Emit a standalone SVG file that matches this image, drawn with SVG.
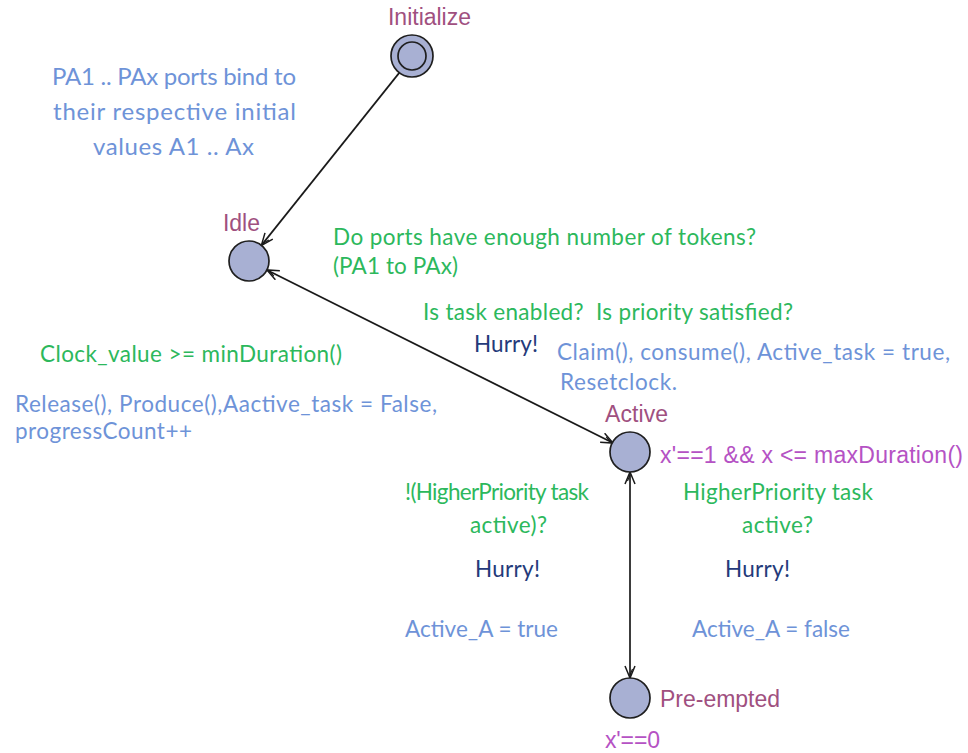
<svg xmlns="http://www.w3.org/2000/svg" width="968" height="753" viewBox="0 0 968 753">
  <defs>
    <marker id="arrow" viewBox="0 0 14 12" refX="13" refY="6" markerWidth="14" markerHeight="12" markerUnits="userSpaceOnUse" orient="auto-start-reverse">
      <path d="M1,1 L13,6 L1,11" fill="none" stroke="#1a1a1a" stroke-width="1.5"/>
      <path d="M4,3.5 L10,6" fill="none" stroke="#1a1a1a" stroke-width="1.2"/>
    </marker>
    <style>
      .loc { fill: #a8b0d3; stroke: #1f1f1f; stroke-width: 1.7; }
      .edge { fill: none; stroke: #1a1a1a; stroke-width: 1.7; }
      .name { font-family: "Liberation Sans", Arial, sans-serif; font-size: 23px; fill: #a0507f; }
      .inv { font-family: "Liberation Sans", Arial, sans-serif; font-size: 23px; fill: #b552c4; }
      .guard { font-family: Lato, "Open Sans", sans-serif; font-size: 22.5px; fill: #2cb85c; }
      .upd { font-family: Lato, "Open Sans", sans-serif; font-size: 22.5px; fill: #6e93d8; }
      .sync { font-family: Lato, "Open Sans", sans-serif; font-size: 22.5px; fill: #243a7a; }
      .note { font-size: 24px; }
    </style>
  </defs>

  <!-- transitions -->
  <g id="connectors">
    <line class="edge" x1="399.6" y1="72.4" x2="261.4" y2="245.4" marker-end="url(#arrow)"/>
    <line class="edge" x1="266.9" y1="269.9" x2="613.1" y2="443.1" marker-start="url(#arrow)" marker-end="url(#arrow)"/>
    <line class="edge" x1="630" y1="472" x2="630" y2="678" marker-start="url(#arrow)" marker-end="url(#arrow)"/>
  </g>

  <!-- locations -->
  <g id="initialize">
    <circle class="loc" cx="412" cy="56" r="21"/>
    <circle class="loc" cx="412" cy="56" r="14"/>
    <text class="name" x="388" y="25" textLength="83">Initialize</text>
  </g>
  <g id="idle">
    <circle class="loc" cx="249" cy="261" r="20"/>
    <text class="name" x="223" y="231" textLength="37">Idle</text>
  </g>
  <g id="active">
    <circle class="loc" cx="630" cy="452" r="20"/>
    <text class="name" x="605" y="422" textLength="63">Active</text>
    <text class="inv" x="660" y="463" textLength="303">x'==1 &amp;&amp; x &lt;= maxDuration()</text>
  </g>
  <g id="pre-empted">
    <circle class="loc" cx="630" cy="698" r="20"/>
    <text class="name" x="660" y="707" textLength="120">Pre-empted</text>
    <text class="inv" x="605" y="748" textLength="55">x'==0</text>
  </g>

  <!-- annotations -->
  <g id="init-note">
    <text class="upd note" x="52" y="85" textLength="244">PA1 .. PAx ports bind to</text>
    <text class="upd note" x="53" y="120" textLength="243">their respective initial</text>
    <text class="upd note" x="93" y="155" textLength="161">values A1 .. Ax</text>
  </g>
  <g id="claim-labels">
    <text class="guard" x="333" y="245" textLength="423">Do ports have enough number of tokens?</text>
    <text class="guard" x="333" y="274" textLength="125">(PA1 to PAx)</text>
    <text class="guard" x="423" y="320" textLength="370" xml:space="preserve">Is task enabled?  Is priority satisfied?</text>
    <text class="sync" x="474" y="352" textLength="64">Hurry!</text>
    <text class="upd" x="557" y="360" textLength="393">Claim(), consume(), Active_task = true,</text>
    <text class="upd" x="560" y="390" textLength="117">Resetclock.</text>
  </g>
  <g id="release-labels">
    <text class="guard" x="40" y="362" textLength="302">Clock_value &gt;= minDuration()</text>
    <text class="upd" x="15" y="412" textLength="422">Release(), Produce(),Aactive_task = False,</text>
    <text class="upd" x="15" y="439" textLength="177">progressCount++</text>
  </g>
  <g id="resume-labels">
    <text class="guard" x="405" y="500" textLength="184">!(HigherPriority task</text>
    <text class="guard" x="470" y="533" textLength="77">active)?</text>
    <text class="sync" x="475" y="577" textLength="65">Hurry!</text>
    <text class="upd" x="405" y="637" textLength="153">Active_A = true</text>
  </g>
  <g id="preempt-labels">
    <text class="guard" x="683" y="500" textLength="190">HigherPriority task</text>
    <text class="guard" x="742" y="533" textLength="71">active?</text>
    <text class="sync" x="725" y="577" textLength="65">Hurry!</text>
    <text class="upd" x="692" y="637" textLength="158">Active_A = false</text>
  </g>
</svg>
